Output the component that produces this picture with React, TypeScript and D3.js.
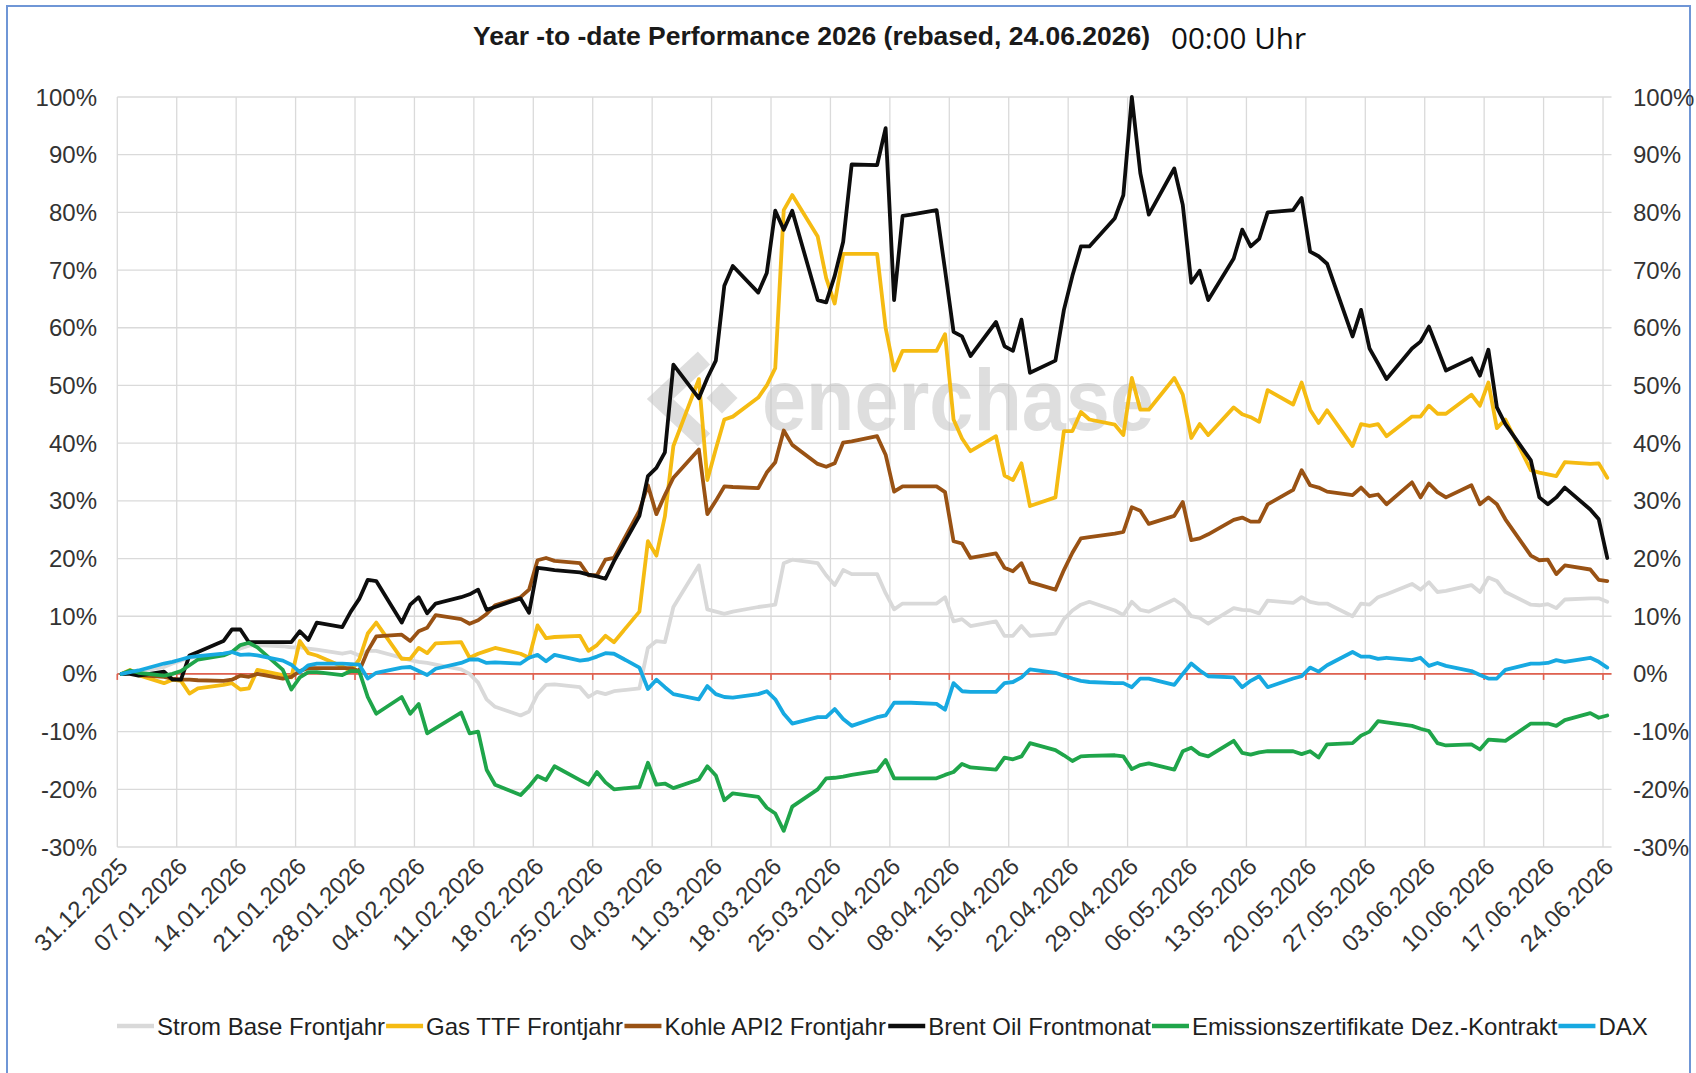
import React from "react";
import * as d3 from "d3";

// ---------- categories ----------
const START = new Date(Date.UTC(2025, 11, 31));
const END = new Date(Date.UTC(2026, 5, 24));
const tradingDays = d3
  .utcDays(START, d3.utcDay.offset(END, 1))
  .filter((d) => d.getUTCDay() !== 0 && d.getUTCDay() !== 6);
const tickDates = d3.range(26).map((k) => d3.utcDay.offset(START, 7 * k));
const yTicks = d3.range(-30, 101, 10);

const TITLE = "Year -to -date Performance 2026 (rebased, 24.06.2026)";
const SUBTITLE = "00:00 Uhr";

// ---------- series values (% YTD, one per trading day) ----------
const strom = [
  0, 0.5, 0.4, 1.2, 1.8,
  2.3, 2.8, 3.0, 3.4, 3.8,
  4.4, 4.9, 5.0, 4.8, 4.6,
  4.6, 4.4, 4.2, 3.5, 3.8,
  3.2, 4, 4, 2.8, 2.4,
  2.1, 1.9, 1.6, 0.8, 0,
  -1.5, -4.4, -5.7, -7.2, -6.5,
  -3.5, -1.9, -1.8, -2.3, -4.0,
  -3.1, -3.5, -3.0, -2.5, 4.5,
  5.7, 5.5, 11.6, 18.8, 11.2,
  10.8, 10.4, 10.8, 11.6, 11.8,
  12, 19.2, 19.8, 19.2, 17.1,
  15.4, 18, 17.3, 17.3, 14,
  11.2, 12.2, 12.2, 12.2, 13.3,
  9.1, 9.5, 8.3, 9.1, 6.6,
  6.6, 8.3, 6.6, 7, 9.5,
  11, 12, 12.5, 11, 10.2,
  12.5, 11.1, 10.8, 12.9, 11.9,
  10, 9.7, 8.7, 11.4, 11.1,
  11, 10.5, 12.7, 12.3, 13.3,
  12.5, 12.2, 12.2, 10, 12.2,
  12, 13.3, 13.8, 15.6, 14.6,
  15.9, 14.2, 14.4, 15.4, 14.2,
  16.7, 16.1, 14.2, 12, 11.9,
  12.1, 11.4, 12.9, 13.1, 13.1,
  12.5,
];

const gas = [
  0, 0.7, -0.2, -1.6, -1.0,
  -1.2, -3.4, -2.5, -1.9, -1.6,
  -2.7, -2.5, 0.7, -0.2, -0.6,
  5.7, 3.6, 3.2, 1.3, 0.5,
  2.5, 7, 8.9, 2.6, 2.6,
  4.5, 3.6, 5.3, 5.5, 2.8,
  3.5, 4, 4.5, 3.5, 2.8,
  8.4, 6.2, 6.4, 6.6, 4.0,
  5, 6.6, 5.5, 10.8, 23,
  20.5, 27.3, 39.5, 51.1, 33.6,
  39, 44.1, 44.6, 47.9, 50,
  53, 80.4, 83, 75.8, 68.6,
  64.2, 72.8, 72.8, 72.8, 60,
  52.6, 56, 56, 56, 58.9,
  44.1, 40.8, 38.6, 41.2, 34.4,
  33.6, 36.5, 29.1, 30.6, 42.1,
  42.1, 45.4, 44.1, 43.2, 41.4,
  51.3, 45.8, 45.8, 51.3, 48.4,
  40.9, 43.3, 41.4, 46.2, 45,
  44.5, 43.7, 49.2, 46.7, 50.5,
  45.8, 43.5, 45.7, 39.5, 43.3,
  43, 43.3, 41.2, 44.6, 44.6,
  46.5, 45.1, 45.1, 48.4, 46.5,
  50.5, 42.6, 44.1, 35.3, 34.9,
  34.6, 34.3, 36.7, 36.4, 36.5,
  34,
];

const kohle = [
  0, 0.2, -0.2, -0.5, -0.8,
  -1, -1, -1.1, -1.2, -1.0,
  -0.3, -0.5, 0, -0.8, -0.5,
  0.5, 1, 1, 1, 1,
  0.5, 4, 6.5, 6.8, 5.7,
  7.4, 8, 10.2, 9.5, 8.7,
  9.3, 10.4, 11.9, 13.3, 14.6,
  19.7, 20.1, 19.6, 19.2, 17.1,
  17.1, 19.8, 20.1, 28.3, 32.7,
  27.7, 31, 34, 38.9, 27.7,
  30, 32.5, 32.4, 32.2, 34.9,
  36.7, 42.2, 39.7, 36.4, 35.9,
  36.5, 40.1, 40.3, 41.2, 38,
  31.6, 32.5, 32.5, 32.5, 31.5,
  23, 22.6, 20.1, 20.9, 18.4,
  17.8, 19.2, 15.9, 14.6, 18,
  21, 23.5, 23.7, 24.3, 24.6,
  28.9, 28.3, 26, 27.4, 29.8,
  23.2, 23.5, 24.2, 26.7, 27.1,
  26.4, 26.4, 29.4, 31.9, 35.3,
  32.7, 32.3, 31.6, 31, 32.3,
  30.8, 31.1, 29.4, 33.2, 30.6,
  33, 31.5, 30.6, 32.7, 29.4,
  30.6, 29.4, 26.8, 20.5, 19.7,
  19.8, 17.3, 18.8, 18.1, 16.3,
  16.1,
];

const brent = [
  0, 0, -0.3, 0.4, -1,
  -1, 3.2, 3.8, 5.7, 7.7,
  7.7, 5.5, 5.5, 5.5, 5.5,
  7.4, 5.9, 8.9, 8.1, 10.8,
  13, 16.3, 16.1, 8.9, 12,
  13.3, 10.5, 12.2, 13.3, 13.8,
  14.6, 11.1, 11.6, 13.1, 10.6,
  18.4, 18.2, 18, 17.6, 17.2,
  16.9, 16.5, 19.5, 27.4, 34.3,
  35.7, 38.4, 53.6, 47.8, 51.3,
  54.3, 67.3, 70.7, 66.1, 69.5,
  80.3, 77, 80.3, 64.8, 64.4,
  69, 74.9, 88.3, 88.2, 94.6,
  64.8, 79.4, 79.6, 80.4, 70,
  59.3, 58.5, 55.1, 61, 56.8,
  56, 61.4, 52.2, 54.3, 63.1,
  69, 74.1, 74.1, 79, 83,
  100, 86.8, 79.6, 87.6, 81.3,
  67.8, 69.9, 64.8, 72, 77,
  74.1, 75.4, 80, 80.4, 82.5,
  73.2, 72.4, 71.1, 58.5, 63.1,
  56.4, 53.8, 51.1, 56.4, 57.6,
  60.2, 56.4, 52.6, 54.7, 51.7,
  56.2, 46.2, 43.3, 37, 30.6,
  29.4, 30.6, 32.3, 28.5, 26.8,
  20.1,
];

const emission = [
  0, 0.6, 0.2, -0.3, 0,
  0.5, 1.5, 2.5, 3.2, 3.8,
  5.0, 5.4, 4.6, 0.7, -2.7,
  -0.6, 0.3, 0.3, -0.2, 0.5,
  0.5, -4, -6.9, -4, -6.9,
  -5.2, -10.3, -9.4, -6.7, -10.3,
  -10, -16.6, -19.2, -21, -19.5,
  -17.7, -18.4, -16, -18.4, -19.2,
  -17, -18.8, -20, -19.6, -15.4,
  -19.2, -19, -19.8, -18.3, -16,
  -17.6, -21.9, -20.7, -21.3, -23.2,
  -24.2, -27.2, -23, -20, -18.1,
  -18, -17.8, -17.5, -16.8, -14.9,
  -18.1, -18.1, -18.1, -18.1, -17.5,
  -17, -15.6, -16.2, -16.6, -14.5,
  -14.8, -14.3, -12, -13.2, -14.1,
  -15.1, -14.3, -14.2, -14.1, -14.3,
  -16.5, -15.8, -15.5, -16.6, -13.4,
  -12.8, -13.9, -14.3, -11.6, -13.7,
  -14, -13.6, -13.4, -13.4, -13.9,
  -13.4, -14.5, -12.2, -12, -10.7,
  -10, -8.2, -8.4, -9, -9.5,
  -9.9, -12, -12.4, -12.2, -13.1,
  -11.4, -11.5, -11.6, -8.6, -8.6,
  -8.6, -9, -8, -6.8, -7.6,
  -7.2,
];

const dax = [
  0, 0.3, 0.6, 1.8, 2.1,
  2.5, 2.9, 3.1, 3.5, 3.8,
  3.3, 3.4, 3.2, 2.3, 1.6,
  0.3, 1.5, 1.8, 1.8, 1.7,
  1.6, -0.8, 0.2, 1.1, 1.2,
  0.5, -0.2, 0.9, 1.9, 2.5,
  2.5, 1.9, 2, 1.8, 2.8,
  3.3, 2.2, 3.3, 2.3, 2.5,
  3.0, 3.6, 3.5, 1.1, -2.6,
  -1, -2.3, -3.5, -4.4, -2.1,
  -3.5, -4, -4.1, -3.5, -3,
  -4.4, -6.9, -8.6, -7.5, -7.5,
  -6.1, -7.8, -9, -7.5, -7.2,
  -5, -5, -5, -5.2, -6.2,
  -1.6, -3, -3.1, -3.1, -1.6,
  -1.4, -0.6, 0.8, 0.2, -0.3,
  -0.8, -1.2, -1.4, -1.6, -1.6,
  -2.3, -0.8, -0.8, -1.9, 0,
  1.8, 0.6, -0.4, -0.6, -2.3,
  -1.2, -0.4, -2.3, -0.8, -0.4,
  1.1, 0.4, 1.5, 3.8, 3,
  3, 2.6, 2.8, 2.4, 2.8,
  1.4, 1.9, 1.4, 0.5, -0.2,
  -0.8, -0.8, 0.7, 1.8, 1.8,
  1.9, 2.4, 2.1, 2.8, 2.1,
  1.1,
];

const seriesNames = [
  "Strom Base Frontjahr",
  "Gas TTF Frontjahr",
  "Kohle API2 Frontjahr",
  "Brent Oil Frontmonat",
  "Emissionszertifikate Dez.-Kontrakt",
  "DAX",
];
const seriesValues = [strom, gas, kohle, brent, emission, dax];
const seriesColors = ["#d9d9d9", "#f5bb12", "#995214", "#0d0d0d", "#1fa54a", "#17a9e1"];

// ---------- layout ----------
const W = 1696;
const H = 1073;
const M = { left: 117.3, right: 1611.5, top: 97, bottom: 847 };
const FONT = "'Liberation Sans', Arial, sans-serif";

function measure(text: string, font: string): number {
  const c = document.createElement("canvas").getContext("2d");
  if (!c) return text.length * 11;
  c.font = font;
  return c.measureText(text).width;
}

export default function App() {
  const x = d3
    .scaleUtc()
    .domain([START, d3.utcDay.offset(END, 1)])
    .range([M.left, M.right]);
  const y = d3.scaleLinear().domain([-30, 100]).range([M.bottom, M.top]);
  const pointDates = tradingDays.map((d) => d3.utcHour.offset(d, 12));
  const line = d3
    .line<number>()
    .x((_, i) => x(pointDates[i]))
    .y((v) => y(v));
  const fmt = d3.utcFormat("%d.%m.%Y");

  // legend layout
  const legendSize = 24;
  const legendFont = `${legendSize}px ${FONT}`;
  const swatch = 37;
  let lx = 117;
  const legendItems = seriesNames.map((name, i) => {
    const w = measure(name, legendFont);
    const item = { name, color: seriesColors[i], x: lx, tx: lx + swatch + 3 };
    lx = lx + swatch + 3 + w + 1;
    return item;
  });
  const legendY = 1026;

  return (
    <svg
      width={W}
      height={H}
      style={{ position: "absolute", left: 0, top: 0, background: "#fff" }}
      fontFamily={FONT}
    >
      <rect x={0} y={0} width={W} height={H} fill="#fff" />
      <rect x={7} y={6} width={1683} height={H + 20} fill="none" stroke="#6f96d6" strokeWidth={2} />

      {/* title */}
      <text x={473} y={45} fontSize={26} fontWeight="bold" fill="#1a1a1a" textLength={677} lengthAdjust="spacingAndGlyphs">
        {TITLE}
      </text>
      <text x={1171} y={49} fontSize={29} fontFamily="'Open Sans', 'Noto Sans', sans-serif" fill="#111" textLength={135} lengthAdjust="spacingAndGlyphs">
        {SUBTITLE}
      </text>

      {/* gridlines */}
      <g stroke="#dadada" strokeWidth={1.3}>
        {yTicks.map((t) => (
          <line key={"h" + t} x1={M.left} x2={M.right} y1={y(t)} y2={y(t)} />
        ))}
        {tickDates.map((d, i) => (
          <line key={"v" + i} x1={x(d)} x2={x(d)} y1={M.top} y2={M.bottom} />
        ))}
      </g>

      {/* y labels */}
      <g fontSize={24} fill="#333">
        {yTicks.map((t) => (
          <text key={"l" + t} x={97} y={y(t)} textAnchor="end" dominantBaseline="central">
            {t + "%"}
          </text>
        ))}
        {yTicks.map((t) => (
          <text key={"r" + t} x={1633} y={y(t)} textAnchor="start" dominantBaseline="central">
            {t + "%"}
          </text>
        ))}
      </g>

      {/* watermark */}
      <g opacity={0.55} fill="#c4c4c4">
        <polyline points="704,358 660,399 704,440" fill="none" stroke="#c4c4c4" strokeWidth={18} strokeLinejoin="miter" />
        <rect x={711} y={387} width={22} height={22} transform="rotate(45 722 398)" />
        <text x={762} y={430} fontSize={88} fontWeight="bold" textLength={392} lengthAdjust="spacingAndGlyphs">
          enerchase
        </text>
      </g>

      {/* zero axis */}
      <line x1={M.left} x2={M.right} y1={y(0)} y2={y(0)} stroke="#e0614f" strokeWidth={1.6} />
      {tickDates.map((d, i) => (
        <line key={"t" + i} x1={x(d)} x2={x(d)} y1={y(0)} y2={y(0) + 6} stroke="#e0614f" strokeWidth={1.6} />
      ))}

      {/* series */}
      {seriesValues.map((vals, i) => (
        <path
          key={seriesNames[i]}
          d={line(vals) || ""}
          fill="none"
          stroke={seriesColors[i]}
          strokeWidth={3.8}
          strokeLinejoin="round"
          strokeLinecap="round"
        />
      ))}

      {/* x labels */}
      <g fontSize={24} fill="#333">
        {tickDates.map((d, i) => (
          <text
            key={"x" + i}
            x={x(d) + 6}
            y={862}
            textAnchor="end"
            dominantBaseline="central"
            transform={`rotate(-45 ${x(d) + 6} 862)`}
          >
            {fmt(d)}
          </text>
        ))}
      </g>

      {/* legend */}
      <g fontSize={legendSize} fill="#1f1f1f">
        {legendItems.map((it) => (
          <g key={it.name}>
            <line x1={it.x} x2={it.x + swatch} y1={legendY} y2={legendY} stroke={it.color} strokeWidth={4.5} />
            <text x={it.tx} y={legendY} dominantBaseline="central">
              {it.name}
            </text>
          </g>
        ))}
      </g>
    </svg>
  );
}
